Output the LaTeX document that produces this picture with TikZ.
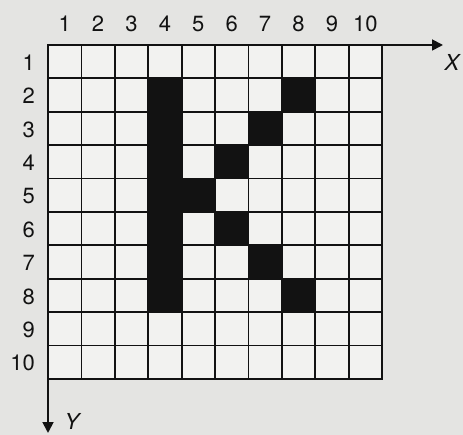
\documentclass[tikz,border=0pt]{standalone}
\usepackage{fontspec}
\setmainfont{TeX Gyre Heros}
\usetikzlibrary{arrows.meta}
\definecolor{paper}{RGB}{228,228,226}
\definecolor{cellwhite}{RGB}{242,242,240}
\definecolor{ink}{RGB}{18,18,18}

\begin{document}
\begin{tikzpicture}[
  x=1pt,y=-1pt,
  font=\fontsize{22}{22}\selectfont,
  gridline/.style={draw=ink,line width=1.8pt},
  filled/.style={fill=ink},
  axis/.style={-{Triangle[length=11pt,width=11pt]},draw=ink,line width=1.8pt},
  num/.style={text=ink,inner sep=0pt},
  axlabel/.style={text=ink,inner sep=0pt,font=\fontsize{22}{22}\selectfont\itshape}
]
\fill[paper] (0,0) rectangle (463,435);
\useasboundingbox (0,0) rectangle (463,435);
\def\cs{33.4}

% Field of the raster.
\coordinate (O) at (48,45);
\fill[cellwhite] (O) rectangle ++({10*\cs},{10*\cs});

% Black cells of the letter.
\foreach \cx/\cy in {4/2,4/3,4/4,4/5,4/6,4/7,4/8,5/5,6/4,6/6,7/3,7/7,8/2,8/8}{
  \fill[filled] ({48+(\cx-1)*\cs},{45+(\cy-1)*\cs}) rectangle ++(\cs,\cs);
}

% Grid lines.
\foreach \i in {1,...,9}{
  \draw[gridline] ({48+\i*\cs},45) -- ({48+\i*\cs},{45+10*\cs});
  \draw[gridline] (48,{45+\i*\cs}) -- ({48+10*\cs},{45+\i*\cs});
}
\draw[gridline] (O) rectangle ++({10*\cs},{10*\cs});

% Axes.
\coordinate (xend) at (443,45);
\coordinate (yend) at (48,433);
\draw[axis] (O) -- (xend);
\draw[axis] (O) -- (yend);
\node[axlabel] (xlab) at (452,62) {X};
\node[axlabel] (ylab) at (72,421) {Y};

% Column and row numbers.
\foreach \n in {1,...,10}{
  \node[num] (col\n) at ({48+(\n-0.5)*\cs},24) {\n};
  \node[num,anchor=east] (row\n) at (35,{46+(\n-0.5)*\cs}) {\n};
}

\end{tikzpicture}
\end{document}
